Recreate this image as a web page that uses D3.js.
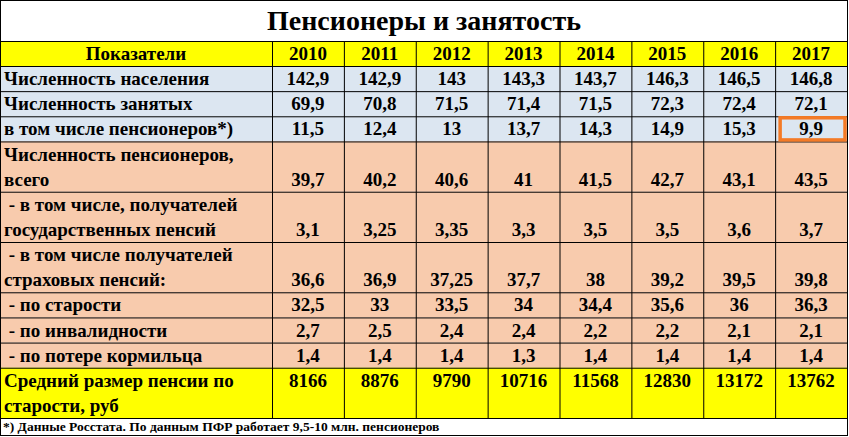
<!DOCTYPE html>
<html><head><meta charset="utf-8">
<script src="https://cdn.jsdelivr.net/npm/d3@7"></script>
<style>body{margin:0;background:#fff}svg{display:block}</style>
</head><body>
<svg id="chart" width="849" height="437" font-family="'Liberation Serif', 'DejaVu Serif', 'Times New Roman', serif" font-weight="bold"></svg>
<script>
const years = ['2010','2011','2012','2013','2014','2015','2016','2017'];
const rowLabels = [
  ['Численность населения'],
  ['Численность занятых'],
  ['в том числе пенсионеров*)'],
  ['Численность пенсионеров,', 'всего'],
  [' - в том числе, получателей', 'государственных пенсий'],
  [' - в том числе получателей', 'страховых пенсий:'],
  [' - по старости'],
  [' - по инвалидности'],
  [' - по потере кормильца'],
  ['Средний размер пенсии по', 'старости, руб']
];
const rowValues = [
  ['142,9','142,9','143','143,3','143,7','146,3','146,5','146,8'],
  ['69,9','70,8','71,5','71,4','71,5','72,3','72,4','72,1'],
  ['11,5','12,4','13','13,7','14,3','14,9','15,3','9,9'],
  ['39,7','40,2','40,6','41','41,5','42,7','43,1','43,5'],
  ['3,1','3,25','3,35','3,3','3,5','3,5','3,6','3,7'],
  ['36,6','36,9','37,25','37,7','38','39,2','39,5','39,8'],
  ['32,5','33','33,5','34','34,4','35,6','36','36,3'],
  ['2,7','2,5','2,4','2,4','2,2','2,2','2,1','2,1'],
  ['1,4','1,4','1,4','1,3','1,4','1,4','1,4','1,4'],
  ['8166','8876','9790','10716','11568','12830','13172','13762']
];
const rowFill = ['blue','blue','blue','peach','peach','peach','peach','peach','peach','yellow'];
const title = 'Пенсионеры и занятость';
const headerLabel = 'Показатели';
const footnote = '*) Данные Росстата. По данным ПФР работает 9,5-10 млн. пенсионеров';

const colors = {blue:'#dce6f1', peach:'#f8cbad', yellow:'#ffff00'};
const FS = 19;
const svg = d3.select('#chart');
const x = d3.scaleBand().domain(years).range([272, 847]);
const spans = rowLabels.map(l => l.length);
const cum = [0]; spans.forEach(s => cum.push(cum[cum.length-1] + s));
const y = d3.scaleLinear().domain([0, cum[cum.length-1]]).range([66, 418]);

svg.append('rect').attr('x',0.5).attr('y',0.5).attr('width',847).attr('height',435)
  .attr('fill','#fff').attr('stroke','#000');
svg.append('text').attr('x',424).attr('y',30).attr('text-anchor','middle')
  .attr('font-size',28).text(title);

const head = svg.append('g');
head.append('rect').attr('x',1).attr('y',41).attr('width',846).attr('height',25).attr('fill',colors.yellow);
head.append('text').attr('x',136).attr('y',60).attr('text-anchor','middle').attr('font-size',FS).text(headerLabel);
head.selectAll('.yr').data(years).join('text')
  .attr('x', d => x(d) + x.bandwidth()/2).attr('y',60).attr('text-anchor','middle').attr('font-size',FS).text(d => d);

const rows = svg.selectAll('g.row').data(rowLabels).join('g').attr('class','row');
rows.append('rect').attr('x',1).attr('y',(d,i)=>y(cum[i])).attr('width',846)
  .attr('height',(d,i)=>y(cum[i+1])-y(cum[i])).attr('fill',(d,i)=>colors[rowFill[i]]);
rows.each(function(lines, i){
  const g = d3.select(this);
  const top = y(cum[i]);
  const lh = (y(cum[i+1]) - top) / lines.length;
  lines.forEach((t, k) => g.append('text').attr('x',4).attr('y', top + lh*k + lh - 6)
    .attr('font-size',FS).attr('xml:space','preserve').text(t));
  const line = rowFill[i] === 'yellow' ? 0 : lines.length - 1;
  g.selectAll('.v').data(rowValues[i]).join('text')
    .attr('x',(d,j)=>x(years[j]) + x.bandwidth()/2).attr('y', top + lh*line + lh - 6)
    .attr('text-anchor','middle').attr('font-size',FS).text(d=>d);
});

const grid = svg.append('g').attr('stroke','#000').attr('stroke-width',1);
[41,...cum.map(c=>y(c))].forEach(v => grid.append('line').attr('x1',0).attr('x2',848).attr('y1',v+0.5).attr('y2',v+0.5));
[272,...years.map(d=>x(d)+x.bandwidth())].forEach(v => grid.append('line').attr('x1',v+0.5).attr('x2',v+0.5).attr('y1',41).attr('y2',418));

svg.append('text').attr('x',3).attr('y',431).attr('font-size',13.5).text(footnote);

const hx = x('2017'), hy = y(cum[2]);
svg.append('rect').attr('x',hx+5).attr('y',hy+1.5).attr('width',x.bandwidth()-7).attr('height',y(cum[3])-hy-3)
  .attr('fill','none').attr('stroke','#f47a26').attr('stroke-width',3.5);
</script>
</body></html>
